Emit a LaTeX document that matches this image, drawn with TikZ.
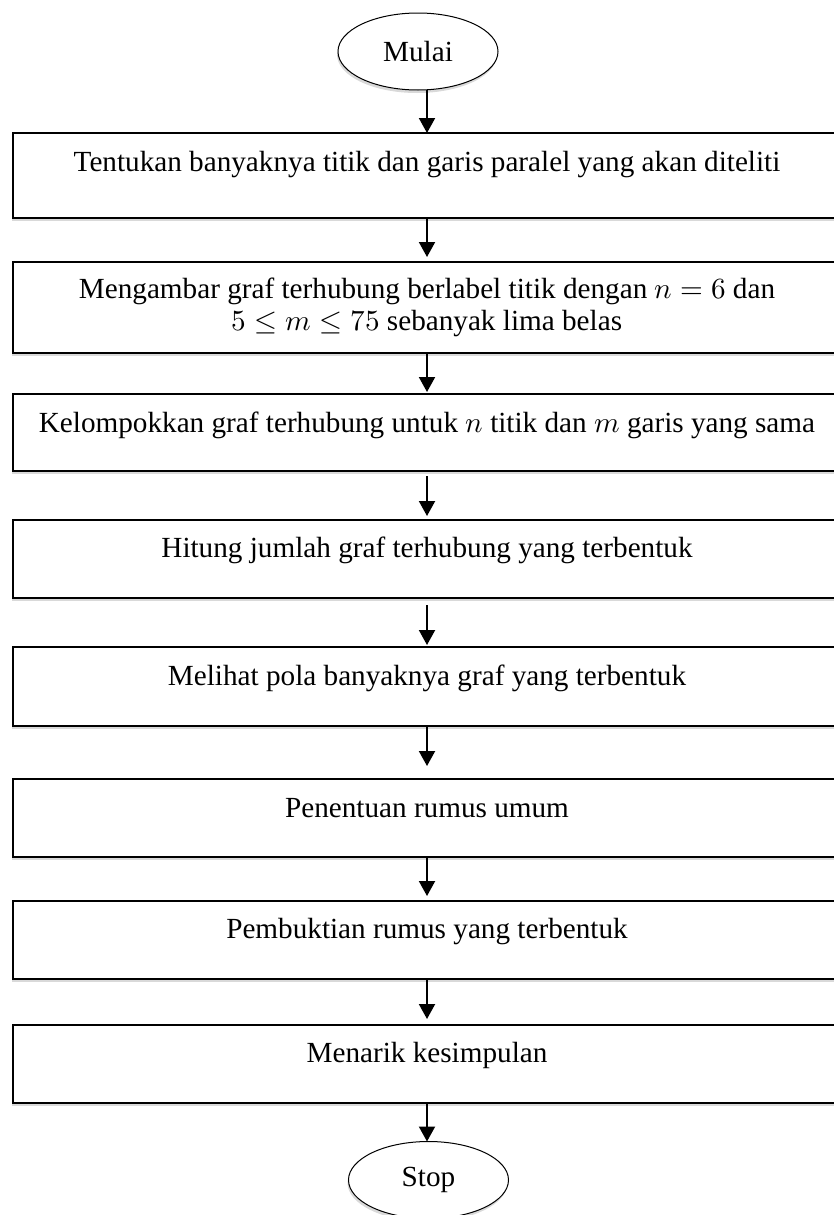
\documentclass[tikz,border=0pt]{standalone}
\usepackage{fontspec}
\usepackage{unicode-math}
\setmainfont{Liberation Serif}
\usetikzlibrary{arrows.meta,shapes.geometric,shadows}

\begin{document}
\begin{tikzpicture}[x=0.5pt, y=-0.5pt, >={Triangle[width=8pt,length=7.5pt]},
		font=\fontsize{14.6}{16}\selectfont,
		shade/.style = {drop shadow={shadow xshift=-0.5pt, shadow yshift=-1.5pt, opacity=0.3}},
		stepbox/.style = {draw, line width=0.8pt, fill=white, minimum width=414pt, inner sep=0pt, outer sep=0pt, align=center, shade},
		oneline/.style = {text height=10pt, text depth=#1},
		terminal/.style = {draw, ellipse, line width=0.5pt, fill=white, minimum width=80pt, minimum height=38.5pt, inner sep=0pt, outer sep=0pt, shade},
		flow/.style = {->, line width=1pt}]

		\clip (0,0) rectangle (834,1215);

		\node[terminal] (mulai) at (418,51.5) {Mulai};
		\node[stepbox, minimum height=42.5pt, oneline=14.5pt] (tentukan) at (427,175.5) {Tentukan banyaknya titik dan garis paralel yang akan diteliti};
		\node[stepbox, minimum height=45.5pt] (mengambar) at (427,307.5) {Mengambar graf terhubung berlabel titik dengan $n=6$ dan\\ $5\le m\le 75$ sebanyak lima belas};
		\node[stepbox, minimum height=38.5pt, oneline=10.5pt] (kelompok) at (427,432.5) {Kelompokkan graf terhubung untuk $n$ titik dan $m$ garis yang sama};
		\node[stepbox, minimum height=39pt, oneline=12pt] (hitung) at (427,559) {Hitung jumlah graf terhubung yang terbentuk};
		\node[stepbox, minimum height=39.5pt, oneline=11.5pt] (pola) at (427,686.5) {Melihat pola banyaknya graf yang terbentuk};
		\node[stepbox, minimum height=39pt, oneline=11pt] (rumus) at (427,818) {Penentuan rumus umum};
		\node[stepbox, minimum height=39pt, oneline=12pt] (bukti) at (427,940) {Pembuktian rumus yang terbentuk};
		\node[stepbox, minimum height=39pt, oneline=12pt] (simpulan) at (427,1064) {Menarik kesimpulan};
		\node[terminal] (stop) at (428.5,1180) {Stop};

		\draw[flow] (mulai.south -| tentukan) -- (tentukan);
		\draw[flow, shorten >=2.5pt] (tentukan) -- (mengambar);
		\draw[flow, shorten >=1pt] (mengambar) -- (kelompok);
		\draw[flow, shorten <=2.5pt, shorten >=2pt] (kelompok) -- (hitung);
		\draw[flow, shorten <=3.5pt, shorten >=1pt] (hitung) -- (pola);
		\draw[flow, shorten >=6.5pt] (pola) -- (rumus);
		\draw[flow, shorten >=2.5pt] (rumus) -- (bukti);
		\draw[flow, shorten >=3pt] (bukti) -- (simpulan);
		\draw[flow] (simpulan) -- (simpulan |- stop.north);
	\end{tikzpicture}
\end{document}
